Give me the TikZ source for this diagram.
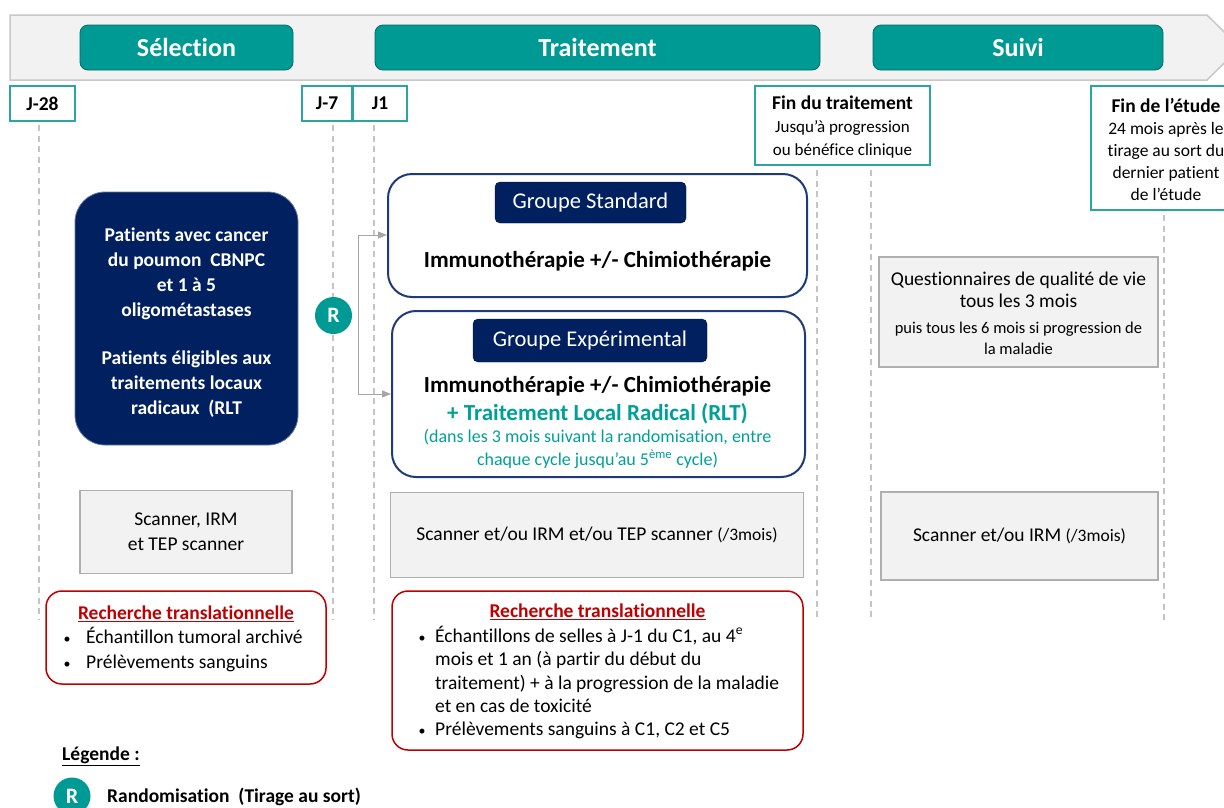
\documentclass[tikz,border=0pt]{standalone}
\usepackage{fontspec}
\setmainfont{Carlito}[Ligatures={NoCommon}]
\usetikzlibrary{arrows.meta}
\definecolor{tealc}{HTML}{009A94}
\definecolor{tealm}{HTML}{2AA5A0}
\definecolor{tealt}{HTML}{00A09A}
\definecolor{navy}{HTML}{002060}
\definecolor{navyb}{HTML}{1F3A78}
\definecolor{redc}{HTML}{C00000}
\definecolor{grayf}{HTML}{F2F2F2}
\definecolor{grayb}{HTML}{AFAFAF}
\definecolor{bannerb}{HTML}{C8C8C8}
\definecolor{dashc}{HTML}{C4C4C4}
\definecolor{arrc}{HTML}{A6A6A6}
\newcommand{\fs}[2]{\fontsize{#1}{#2}\selectfont}
\begin{document}
\begin{tikzpicture}[x=1pt,y=-1pt,
  phase/.style={fill=tealc, draw=tealc!70!black, line width=0.8pt, rounded corners=8pt, text=white, font=\bfseries\fs{26}{30}, inner sep=0pt},
  mile/.style={draw=tealm, fill=white, line width=1.2pt, inner sep=0pt, align=center},
  guide/.style={draw=dashc, line width=1.3pt, dash pattern=on 6pt off 4.5pt},
  navybox/.style={fill=navy, draw=navy!60!white, line width=0.8pt, rounded corners=30pt, inner sep=0pt},
  navytext/.style={text=white, align=center, inner sep=0pt, font=\bfseries\fs{19.5}{25}},
  group/.style={draw=navyb, line width=2pt, rounded corners=24pt, fill=white, inner sep=0pt},
  glabel/.style={fill=navy, draw=navy!60!black, rounded corners=5pt, text=white, inner sep=0pt, font=\fs{22.5}{27}},
  graybox/.style={fill=grayf, draw=grayb, line width=1.2pt, inner sep=0pt, align=center, font=\fs{19.5}{25}},
  redbox/.style={draw=redc, line width=1.5pt, rounded corners=16pt, fill=white, inner sep=0pt},
  rtitle/.style={anchor=base, text=redc, font=\bfseries\fs{19.5}{24}, inner sep=0pt},
  btxt/.style={anchor=base west, font=\fs{19.5}{24}, inner sep=0pt},
  bdot/.style={anchor=base, font=\fs{14}{24}, inner sep=0pt},
  rcirc/.style={circle, fill=tealc, text=white, font=\bfseries\fs{22}{26}, minimum size=37pt, inner sep=0pt},
  branch/.style={draw=arrc, line width=1pt},
  barrow/.style={branch, -{Triangle[length=9pt,width=7pt]}},
]
\useasboundingbox[fill=white] (0,0) rectangle (1224,807);

% banner
\draw[fill=grayf, draw=bannerb, line width=1.5pt] (10,15) -- (1207,15) -- (1240,47.5) -- (1207,80) -- (10,80) -- cycle;
\node[phase, minimum width=213pt, minimum height=45pt] (sel) at (186.5,47.5) {Sélection};
\node[phase, minimum width=445pt, minimum height=45pt] (trt) at (597.5,47.5) {Traitement};
\node[phase, minimum width=290pt, minimum height=45pt] (sui) at (1018,47.5) {Suivi};

% guide lines
\draw[guide] (39,125) -- (39,620);
\draw[guide] (333,125) -- (333,620);
\draw[guide] (374,125) -- (374,620);
\draw[guide] (817,170) -- (817,620);
\draw[guide] (871,170) -- (871,620);
\draw[guide] (1164,215) -- (1164,620);

% milestones
\node[mile, minimum width=65pt, minimum height=35pt, font=\bfseries\fs{19.5}{24}] (j28) at (42.5,103.5) {J-28};
\node[mile, minimum width=50pt, minimum height=35pt, font=\bfseries\fs{19.5}{24}] (j7) at (327,103.5) {J-7};
\node[mile, minimum width=54pt, minimum height=35pt, font=\bfseries\fs{19.5}{24}] (j1) at (380,103.5) {J1};
\node[mile, minimum width=175pt, minimum height=79pt] (fint) at (842.5,125.5) {};
\node[inner sep=0pt, align=center, font=\fs{17}{23}] (fintt) at (842.5,127.5)
  {{\bfseries\fs{19.5}{23}Fin du traitement}\\Jusqu’à progression\\ou bénéfice clinique};
\node[mile, minimum width=150pt, minimum height=124pt] (fine) at (1166,148) {};
\node[inner sep=0pt, align=center, font=\fs{17.5}{22}] (finet) at (1166,149)
  {{\bfseries\fs{19.5}{22}Fin de l’étude}\\24 mois après le\\tirage au sort du\\dernier patient\\de l’étude};

% patients box
\node[navybox, minimum width=223pt, minimum height=253pt] (pat) at (186.5,318.5) {};
\node[navytext] (patt) at (186.5,322.5)
  {Patients avec cancer\\du poumon\ \ CBNPC\\et 1 à 5\\oligométastases\\[23pt]Patients éligibles aux\\traitements locaux\\radicaux\ \ (RLT};

% randomisation
\node[rcirc] (R) at (333.5,315.5) {R};

% groups
\node[group, minimum width=419pt, minimum height=123pt] (std) at (597.5,235.5) {};
\node[glabel, minimum width=191pt, minimum height=41pt] (stdlab) at (590.5,202.5) {Groupe Standard};
\node[inner sep=0pt, font=\bfseries\fs{23}{27}] (stdtxt) at (597.5,261) {Immunothérapie +/- Chimiothérapie};

\node[group, minimum width=413pt, minimum height=166pt] (exp) at (598.5,394) {};
\node[glabel, minimum width=234pt, minimum height=43pt] (explab) at (590,340.5) {Groupe Expérimental};
\node[inner sep=0pt, font=\bfseries\fs{23}{27}] (exp1) at (597.5,386) {Immunothérapie +/- Chimiothérapie};
\node[inner sep=0pt, font=\bfseries\fs{23}{27}, text=tealt] (exp2) at (597.5,414) {+ Traitement Local Radical (RLT)};
\node[inner sep=0pt, font=\fs{18}{23}, text=tealt, align=center] (exp3) at (597.5,448.5)
  {(dans les 3 mois suivant la randomisation, entre\\chaque cycle jusqu’au 5\textsuperscript{ème} cycle)};

% branch arrows
\coordinate (brT) at (358,235);
\coordinate (brB) at (358,394);
\draw[branch] (brT) -- (brB);
\draw[barrow] (brT) -- (brT -| std.west);
\draw[barrow] (brB) -- (brB -| exp.west);

% quality of life
\node[graybox, minimum width=279pt, minimum height=110pt] (qol) at (1018.5,312) {};
\node[inner sep=0pt, align=center, font=\fs{19.5}{22}] (q1) at (1018.5,290) {Questionnaires de qualité de vie\\tous les 3 mois};
\node[inner sep=0pt, align=center, font=\fs{16.5}{21}] (q2) at (1018.5,338) {puis tous les 6 mois si progression de\\la maladie};

% scanners
\node[graybox, minimum width=212pt, minimum height=83pt] (scL) at (186,532) {Scanner, IRM\\et TEP scanner};
\node[graybox, minimum width=413pt, minimum height=85pt] (scM) at (597,535) {Scanner et/ou IRM et/ou TEP scanner {\fs{17.5}{18}(/3mois)}};
\node[graybox, minimum width=277pt, minimum height=88pt] (scR) at (1019.5,536) {Scanner et/ou IRM {\fs{17.5}{18}(/3mois)}};

% translational research left
\node[redbox, minimum width=280pt, minimum height=93pt] (rtL) at (186,637.5) {};
\node[rtitle] (rtLt) at (186,619.5) {\underline{Recherche translationnelle}};
\node[bdot] (rtLd1) at (67,643.5) {•};
\node[btxt] (rtL1) at (86,643.5) {Échantillon tumoral archivé};
\node[bdot] (rtLd2) at (67,668.5) {•};
\node[btxt] (rtL2) at (86,668.5) {Prélèvements sanguins};

% translational research middle
\node[redbox, minimum width=411pt, minimum height=159pt] (rtM) at (597.5,670.5) {};
\node[rtitle] (rtMt) at (597.5,617.5) {\underline{Recherche translationnelle}};
\node[bdot] (rtMd1) at (422,642.5) {•};
\node[btxt] (rtM1) at (435,642.5) {Échantillons de selles à J-1 du C1, au 4\textsuperscript{e}};
\node[btxt] (rtM2) at (435,665.5) {mois et 1 an (à partir du début du};
\node[btxt] (rtM3) at (435,689.5) {traitement) + à la progression de la maladie};
\node[btxt] (rtM4) at (435,712.5) {et en cas de toxicité};
\node[bdot] (rtMd5) at (422,735.5) {•};
\node[btxt] (rtM5) at (435,735.5) {Prélèvements sanguins à C1, C2 et C5};

% legend
\node[anchor=base west, inner sep=0pt, font=\bfseries\fs{19.5}{24}] (leg) at (62,760) {\underline{Légende :}};
\node[rcirc] (legR) at (72,796) {R};
\node[anchor=west, inner sep=0pt, font=\bfseries\fs{19.5}{24}] (legT) at (107,797) {Randomisation\ \ (Tirage au sort)};
\end{tikzpicture}
\end{document}
